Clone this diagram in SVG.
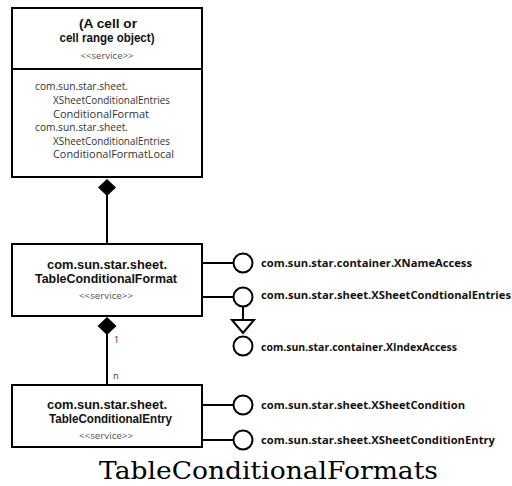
<svg xmlns="http://www.w3.org/2000/svg" width="512" height="486" viewBox="0 0 512 486">
<style>
.box{fill:#fff;stroke:#000;stroke-width:2}
.ln{stroke:#000;stroke-width:2;fill:none}
.lol{fill:#fff;stroke:#000;stroke-width:2}
.dia{fill:#000;stroke:none}
.b{font-family:"Liberation Sans",Arial,sans-serif;font-weight:bold;font-size:12.4px;fill:#111;text-anchor:middle}
.st{font-family:"Open Sans","Liberation Sans",sans-serif;font-size:9px;fill:#555;text-anchor:middle}
.r{font-family:"Open Sans","Liberation Sans",sans-serif;font-size:10.5px;fill:#333}
.lbl{font-family:"Open Sans","Liberation Sans",sans-serif;font-weight:bold;font-size:11px;fill:#111}
.m{font-family:"Open Sans","Liberation Sans",sans-serif;font-size:9px;fill:#333}
.title{font-family:"DejaVu Serif",serif;font-size:24px;fill:#000;text-anchor:middle}
</style>
<g id="connectors">
<line class="ln" x1="107" y1="195" x2="107" y2="244"/>
<polygon class="dia" points="107,179 116,187.5 107,196 98,187.5"/>
<line class="ln" x1="107" y1="334" x2="107" y2="385"/>
<polygon class="dia" points="107,317 116.5,326 107,335 97.5,326"/>
<text class="m" x="114" y="343">1</text>
<text class="m" x="113" y="379">n</text>
<line class="ln" x1="201" y1="263" x2="233" y2="263"/>
<line class="ln" x1="201" y1="297" x2="233" y2="297"/>
<line class="ln" x1="243" y1="306" x2="243" y2="320"/>
<polygon class="lol" points="232,320 254,320 243,333"/>
<line class="ln" x1="201" y1="405" x2="233" y2="405"/>
<line class="ln" x1="201" y1="440" x2="233" y2="440"/>
</g>
<g id="node-cell">
<rect class="box" x="12" y="8" width="190" height="169"/>
<line class="ln" x1="12" y1="69" x2="202" y2="69"/>
<text class="b" x="108" y="28" textLength="58" lengthAdjust="spacingAndGlyphs">(A cell or</text>
<text class="b" x="107" y="42" textLength="95" lengthAdjust="spacingAndGlyphs">cell range object)</text>
<text class="st" x="107" y="59" textLength="53" lengthAdjust="spacingAndGlyphs">&lt;&lt;service&gt;&gt;</text>
<text class="r" x="35" y="90" textLength="93" lengthAdjust="spacingAndGlyphs">com.sun.star.sheet.</text>
<text class="r" x="53" y="104" textLength="117" lengthAdjust="spacingAndGlyphs">XSheetConditionalEntries</text>
<text class="r" x="53" y="117.5" textLength="96" lengthAdjust="spacingAndGlyphs">ConditionalFormat</text>
<text class="r" x="35" y="131" textLength="93" lengthAdjust="spacingAndGlyphs">com.sun.star.sheet.</text>
<text class="r" x="53" y="144.5" textLength="117" lengthAdjust="spacingAndGlyphs">XSheetConditionalEntries</text>
<text class="r" x="53" y="158" textLength="121" lengthAdjust="spacingAndGlyphs">ConditionalFormatLocal</text>
</g>
<g id="node-format">
<rect class="box" x="12" y="244" width="190" height="72"/>
<text class="b" x="107" y="269" textLength="120" lengthAdjust="spacingAndGlyphs">com.sun.star.sheet.</text>
<text class="b" x="106" y="283" textLength="142" lengthAdjust="spacingAndGlyphs">TableConditionalFormat</text>
<text class="st" x="106" y="299" textLength="54" lengthAdjust="spacingAndGlyphs">&lt;&lt;service&gt;&gt;</text>
</g>
<g id="node-entry">
<rect class="box" x="12" y="385" width="190" height="62"/>
<text class="b" x="107" y="408.5" textLength="120" lengthAdjust="spacingAndGlyphs">com.sun.star.sheet.</text>
<text class="b" x="110.5" y="422.5" textLength="123" lengthAdjust="spacingAndGlyphs">TableConditionalEntry</text>
<text class="st" x="106" y="439" textLength="54" lengthAdjust="spacingAndGlyphs">&lt;&lt;service&gt;&gt;</text>
</g>
<g id="if-xnameaccess">
<circle class="lol" cx="243" cy="263" r="9.5"/>
<text class="lbl" x="261" y="266.5" textLength="211" lengthAdjust="spacingAndGlyphs">com.sun.star.container.XNameAccess</text>
</g>
<g id="if-xsheetcondentries">
<circle class="lol" cx="243" cy="297" r="9.5"/>
<text class="lbl" x="261" y="299" textLength="250" lengthAdjust="spacingAndGlyphs">com.sun.star.sheet.XSheetCondtionalEntries</text>
</g>
<g id="if-xindexaccess">
<circle class="lol" cx="243" cy="346" r="9.5"/>
<text class="lbl" x="261" y="351" textLength="196" lengthAdjust="spacingAndGlyphs">com.sun.star.container.XIndexAccess</text>
</g>
<g id="if-xsheetcondition">
<circle class="lol" cx="243" cy="405" r="9.5"/>
<text class="lbl" x="261" y="408.5" textLength="204" lengthAdjust="spacingAndGlyphs">com.sun.star.sheet.XSheetCondition</text>
</g>
<g id="if-xsheetconditionentry">
<circle class="lol" cx="243" cy="440" r="9.5"/>
<text class="lbl" x="261" y="444" textLength="234" lengthAdjust="spacingAndGlyphs">com.sun.star.sheet.XSheetConditionEntry</text>
</g>
<text class="title" x="268.5" y="479" textLength="339" lengthAdjust="spacingAndGlyphs">TableConditionalFormats</text>
</svg>
